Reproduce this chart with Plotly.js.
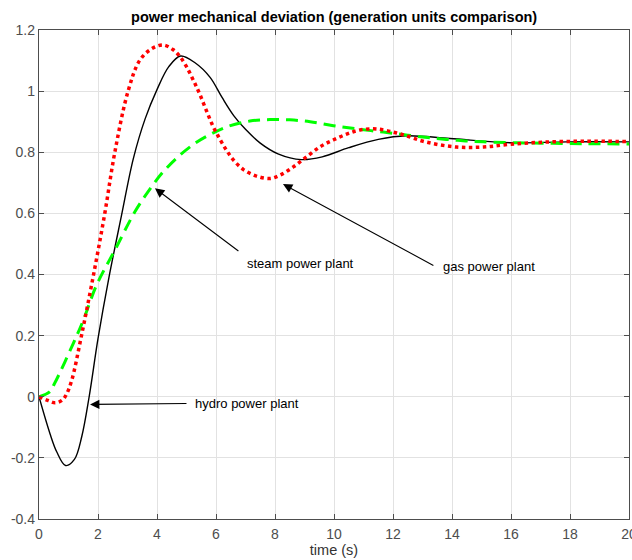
<!DOCTYPE html>
<html>
<head>
<meta charset="utf-8">
<script src="https://cdn.plot.ly/plotly-3.0.1.min.js"></script>
<style>html,body{margin:0;padding:0;background:#fff;}#chart{width:632px;height:560px;}</style>
</head>
<body>
<div id="chart"></div>
<script>
// Hydro power plant (black solid)
const hydroT = [0,0.37,0.6,0.9,1.2,1.45,1.7,2.0,2.37,2.79,3.2,3.6,4.0,4.4,4.8,5.3,5.8,6.2,6.6,7.0,7.5,8.1,8.9,9.6,10.5,11.5,12.46,13.93,15.97,17.89,20.0];
const hydroY = [0,-0.12,-0.18,-0.225,-0.205,-0.13,0,0.19,0.39,0.59,0.78,0.91,1.005,1.08,1.115,1.092,1.045,0.98,0.92,0.875,0.83,0.795,0.776,0.785,0.815,0.842,0.854,0.845,0.831,0.834,0.834];

// Steam power plant (red dotted)
const steamT = [0,0.3,0.55,0.8,0.94,1.11,1.44,1.85,2.23,2.57,3.02,3.41,3.81,4.21,4.54,4.77,5.0,5.23,5.45,5.68,5.9,6.13,6.36,6.58,6.92,7.37,7.83,8.17,8.62,9.07,9.53,9.97,10.45,10.88,11.45,12.24,13.14,14.16,15.06,15.97,17.1,18.45,20.0];
const steamY = [0,-0.012,-0.02,-0.01,0.01,0.054,0.2,0.4,0.6,0.8,1.0,1.1,1.138,1.151,1.136,1.114,1.08,1.036,0.99,0.935,0.885,0.843,0.806,0.776,0.744,0.722,0.714,0.725,0.752,0.785,0.818,0.84,0.86,0.873,0.876,0.86,0.833,0.817,0.817,0.826,0.833,0.836,0.835];

// Gas power plant (green dashed)
const gasT = [0,0.36,0.53,1.16,1.5,1.95,2.6,3.25,3.8,4.2,4.77,5.3,5.8,6.36,7.15,7.83,8.5,9.19,9.98,10.8,11.67,12.5,13.37,14.2,15.06,16.76,18.5,20.0];
const gasY = [0,0.016,0.044,0.174,0.25,0.365,0.485,0.605,0.685,0.735,0.79,0.83,0.858,0.883,0.902,0.907,0.906,0.9,0.887,0.876,0.866,0.856,0.846,0.839,0.834,0.83,0.828,0.827];

const yTickVals = [-0.4,-0.2,0,0.2,0.4,0.6,0.8,1,1.2];
const yTickText = ['-0.4','-0.2','0','0.2','0.4','0.6','0.8','1','1.2'];
const xTickVals = [0,2,4,6,8,10,12,14,16,18,20];
const xTickText = ['0','2','4','6','8','10','12','14','16','18','20'];

const labelText = ['steam power plant','gas power plant','hydro power plant'];
const arrowHeadX = [3.93, 8.27, 1.73];
const arrowHeadY = [0.682, 0.696, -0.025];
const arrowTailX = [6.81, 13.42, 5.05];
const arrowTailY = [0.473, 0.427, -0.022];
const labelX = [6.98, 13.63, 5.23];
const labelY = [0.437, 0.425, -0.022];

const FONT = 'Liberation Sans, Arial, Helvetica, sans-serif';

const traces = [
  {x: hydroT, y: hydroY, type: 'scatter', mode: 'lines', name: 'hydro',
   line: {color: '#000000', width: 1.4, shape: 'spline', smoothing: 1}},
  {x: gasT, y: gasY, type: 'scatter', mode: 'lines', name: 'gas',
   line: {color: '#00ff00', width: 3, dash: '12px,7px', shape: 'spline', smoothing: 1}},
  {x: steamT, y: steamY, type: 'scatter', mode: 'lines', name: 'steam',
   line: {color: '#ff0000', width: 3.5, dash: 'dot', shape: 'spline', smoothing: 1}}
];

const annotations = [];
for (let i = 0; i < labelText.length; i++) {
  annotations.push({
    x: arrowHeadX[i], y: arrowHeadY[i], xref: 'x', yref: 'y',
    ax: arrowTailX[i], ay: arrowTailY[i], axref: 'x', ayref: 'y',
    text: '', showarrow: true, arrowhead: 2, arrowsize: 1.7, arrowwidth: 1.1, arrowcolor: '#000000'
  });
  annotations.push({
    x: labelX[i], y: labelY[i], xref: 'x', yref: 'y',
    text: labelText[i], showarrow: false, xanchor: 'left', yanchor: 'middle',
    font: {family: FONT, size: 13, color: '#000000'}
  });
}

const axisCommon = {
  showgrid: true, gridcolor: '#e2e2e2', gridwidth: 1,
  zeroline: false, showline: true, linecolor: '#4d4d4d', linewidth: 1.2,
  mirror: 'ticks', ticks: 'inside', ticklen: 5, tickwidth: 1, tickcolor: '#4d4d4d',
  tickfont: {family: FONT, size: 14, color: '#4d4d4d'}
};

const layout = {
  width: 632, height: 560,
  margin: {l: 39, r: 2.5, t: 30, b: 41},
  paper_bgcolor: '#ffffff', plot_bgcolor: '#ffffff',
  showlegend: false,
  title: {text: '<b>power mechanical deviation (generation units comparison)</b>',
          font: {family: FONT, size: 14.5, color: '#000000'},
          x: 0.5287, xanchor: 'center', y: 1 - 17/560, yanchor: 'middle', yref: 'container'},
  xaxis: Object.assign({}, axisCommon, {
    range: [0, 20], tickvals: xTickVals, ticktext: xTickText,
    ticklabeloverflow: 'allow', ticklabelstandoff: 2,
    title: {text: 'time (s)', font: {family: FONT, size: 14.5, color: '#333333'}, standoff: 3}
  }),
  yaxis: Object.assign({}, axisCommon, {
    range: [-0.4, 1.2], tickvals: yTickVals, ticktext: yTickText
  }),
  annotations: annotations
};

Plotly.newPlot('chart', traces, layout, {displayModeBar: false, staticPlot: true});
</script>
</body>
</html>
